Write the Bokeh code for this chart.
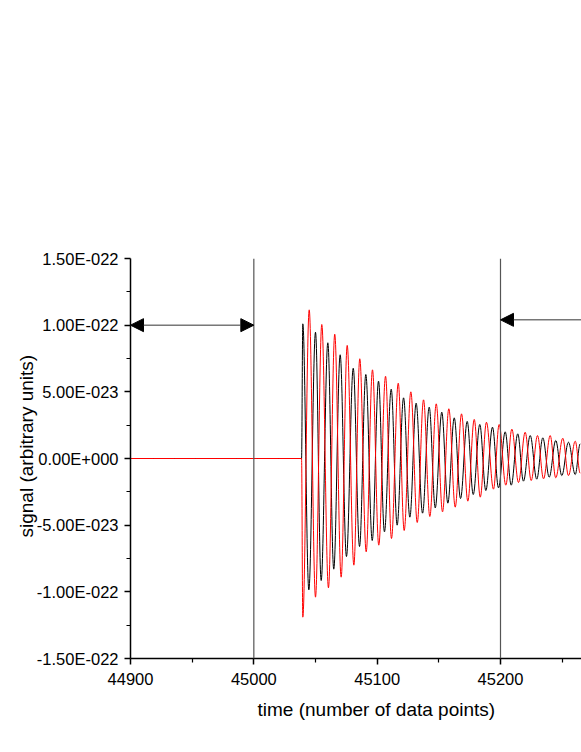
from bokeh.plotting import figure
from bokeh.models import FixedTicker, Span, Arrow, NormalHead, Title
from bokeh.embed import file_html
from bokeh.resources import INLINE

# signal values are in units of 1e-22; each series: start of trace, then successive extrema
black_t = [44900, 45038.7,
           45039.7, 45044.6, 45050.0, 45054.6, 45060.0, 45064.8, 45070.0, 45075.1,
           45080.6, 45085.7, 45090.8, 45096.0, 45101.1, 45105.9, 45111.4, 45116.2,
           45121.4, 45126.5, 45131.6, 45136.8, 45142.2, 45147.1, 45152.4, 45157.3,
           45162.5, 45167.6, 45173.0, 45177.9, 45183.2, 45188.1, 45193.5, 45198.4,
           45203.8, 45208.7, 45214.0, 45218.6, 45224.1, 45229.4, 45234.3, 45239.5,
           45244.8, 45249.7, 45255.1, 45260.6, 45264.6]
black_v = [0.0, 0.0,
           1.01, -0.985, 0.947, -0.915, 0.868, -0.83, 0.778, -0.735,
           0.677, -0.66, 0.63, -0.615, 0.58, -0.55, 0.52, -0.50,
           0.455, -0.44, 0.415, -0.41, 0.385, -0.37, 0.347, -0.335,
           0.305, -0.30, 0.278, -0.27, 0.255, -0.24, 0.235, -0.22,
           0.20, -0.20, 0.185, -0.17, 0.172, -0.155, 0.155, -0.14,
           0.135, -0.128, 0.122, -0.12, 0.11]

red_t = [44900, 45038.7,
         45039.7, 45044.9, 45050.0, 45055.1, 45060.5, 45065.6, 45070.8, 45075.7,
         45081.1, 45085.9, 45091.1, 45096.2, 45101.3, 45106.8, 45111.6, 45117.1,
         45121.9, 45127.3, 45132.5, 45137.6, 45142.7, 45147.9, 45153.0, 45158.1,
         45163.3, 45168.4, 45173.5, 45178.7, 45183.6, 45188.6, 45194.3, 45198.9,
         45204.3, 45209.2, 45214.6, 45220.0, 45224.9, 45230.0, 45234.9, 45240.3,
         45244.8, 45250.5, 45255.1, 45260.6, 45264.6]
red_v = [0.0, 0.0,
         -1.19, 1.115, -1.04, 1.005, -0.97, 0.932, -0.89, 0.848,
         -0.80, 0.748, -0.70, 0.665, -0.65, 0.617, -0.60, 0.565,
         -0.54, 0.50, -0.48, 0.44, -0.435, 0.41, -0.40, 0.373,
         -0.365, 0.335, -0.32, 0.293, -0.29, 0.272, -0.23, 0.255,
         -0.20, 0.22, -0.18, 0.197, -0.165, 0.172, -0.152, 0.172,
         -0.145, 0.152, -0.128, 0.13, -0.11]

x_ticks = [44900, 45000, 45100, 45200]
x_minor = [44950, 45050, 45150, 45250]
y_ticks = [-1.5, -1.0, -0.5, 0.0, 0.5, 1.0, 1.5]
y_minor = [-1.25, -0.75, -0.25, 0.25, 0.75, 1.25]
y_tick_labels = ["-1.50E-022", "-1.00E-022", "-5.00E-023", "0.00E+000",
                 "5.00E-023", "1.00E-022", "1.50E-022"]
marker_times = [45000, 45200]
left_window = [44900, 45000, 1.0]
right_window = [45300, 45200, 1.04]
x_title = "time (number of data points)"
y_title = "signal (arbitrary units)"

FONT = "Liberation Sans"
K = 0.3634  # bezier handle fraction giving a sinusoid-like swing between extrema


def smooth(t, v):
    # one cubic Bezier per pair of consecutive extrema, horizontal tangents at the extrema
    x0, y0, x1, y1 = t[:-1], v[:-1], t[1:], v[1:]
    cx0 = [a + K * (b - a) for a, b in zip(x0, x1)]
    cx1 = [b - K * (b - a) for a, b in zip(x0, x1)]
    return dict(x0=x0, y0=y0, x1=x1, y1=y1, cx0=cx0, cy0=y0, cx1=cx1, cy1=y1)


p = figure(width=581, height=744, output_backend="svg", toolbar_location=None,
           x_range=(44900, 44900 + 451 / 1.23333), y_range=(-1.5, 1.5),
           min_border_left=130, min_border_right=0, min_border_top=258,
           min_border_bottom=86)
p.outline_line_color = None
p.grid.visible = False
p.background_fill_color = "white"
p.border_fill_color = "white"

p.bezier(line_color="black", line_width=1, **smooth(black_t, black_v))
p.bezier(line_color="#ff0000", line_width=1, **smooth(red_t, red_v))

for t in marker_times:
    p.add_layout(Span(location=t, dimension="height", line_color="#555555",
                      line_width=1.2))

head = dict(size=13, fill_color="black", line_color="black")
p.add_layout(Arrow(x_start=left_window[0], x_end=left_window[1],
                   y_start=left_window[2], y_end=left_window[2],
                   start=NormalHead(**head), end=NormalHead(**head),
                   line_color="#333333", line_width=1))
p.add_layout(Arrow(x_start=right_window[0], x_end=right_window[1],
                   y_start=right_window[2], y_end=right_window[2],
                   start=None, end=NormalHead(**head),
                   line_color="#333333", line_width=1))

xa = p.xaxis[0]
xa.ticker = FixedTicker(ticks=x_ticks, minor_ticks=x_minor)
ya = p.yaxis[0]
ya.ticker = FixedTicker(ticks=y_ticks, minor_ticks=y_minor)
ya.major_label_overrides = {v: s for v, s in zip(y_ticks, y_tick_labels)}
xa.major_label_overrides = {v: str(v) for v in x_ticks}

for ax in (xa, ya):
    ax.axis_line_color = "black"
    ax.axis_line_width = 1.5
    ax.major_tick_line_color = "black"
    ax.major_tick_line_width = 1.5
    ax.minor_tick_line_color = "black"
    ax.minor_tick_line_width = 1.2
    ax.major_tick_in = 0
    ax.major_tick_out = 6
    ax.minor_tick_in = 0
    ax.minor_tick_out = 4
    ax.major_label_text_font = FONT
    ax.major_label_text_font_size = "16.5px"
    ax.major_label_text_color = "black"
xa.major_label_standoff = 8
ya.major_label_standoff = 6

title_style = dict(text_font=FONT, text_font_size="19px", text_font_style="normal",
                   text_color="black")
p.add_layout(Title(text=x_title, align="left", offset=127, standoff=18,
                   **title_style), "below")
p.add_layout(Title(text=y_title, align="left", offset=121, standoff=-6,
                   **title_style), "left")

open("out.html", "w").write(file_html(p, INLINE))
